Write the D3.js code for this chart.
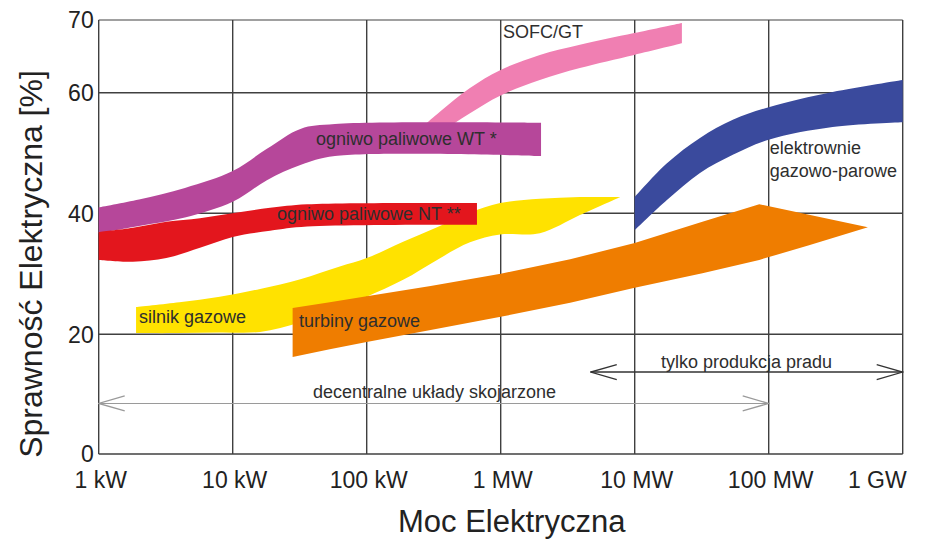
<!DOCTYPE html>
<html>
<head>
<meta charset="utf-8">
<script src="https://cdn.jsdelivr.net/npm/d3@7"></script>
<style>
  body { margin: 0; background: #fff; }
  svg text { font-family: "Liberation Sans", Arial, sans-serif; }
</style>
</head>
<body>
<div id="chart"></div>
<script>
// axis ticks
const xTicks = [1, 10, 100, 1000, 10000, 100000, 1000000]; // kW
const xTickLabels = ["1 kW", "10 kW", "100 kW", "1 MW", "10 MW", "100 MW", "1 GW"];
const yTicks = [0, 20, 40, 60, 70];

// ogniwo paliwowe WT
const wtPower = [1, 2, 4.4, 10, 18, 32, 58, 2000];
const wtUpper = [41, 42.3, 44.2, 47, 50.7, 54, 54.8, 55];
const wtLower = [36.7, 37.9, 39.3, 41.9, 45.5, 48, 49.5, 49.5];

// ogniwo paliwowe NT
const ntPower = [1, 1.8, 3.2, 5.7, 10, 19, 36, 665];
const ntUpper = [36.9, 37.6, 38.6, 39.2, 40, 40.9, 41.5, 41.7];
const ntLower = [32.3, 32, 32.6, 34.3, 36.1, 37.1, 37.8, 38.1];

// SOFC/GT
const sofcPower = [210, 350, 590, 990, 1960, 3900, 9900, 22500];
const sofcUpper = [52.5, 56.8, 60.65, 63.1, 65.2, 66.6, 68.2, 69.6];
const sofcLower = [50, 53.3, 56.6, 59.5, 61.75, 63.4, 65.2, 66.8];

// silnik gazowe
const enginePower = [1.9, 4, 8, 16, 32, 63, 100, 187, 335, 590, 990, 1960, 3900, 7800];
const engineUpper = [24.5, 25.3, 26.2, 27.5, 29.1, 31.2, 32.6, 35.3, 37.7, 40.1, 41.7, 42.4, 42.7, 42.7];
const engineLower = [20.2, 20.2, 20.3, 20.4, 22, 24.4, 26.2, 29, 32.3, 35.2, 36.5, 36.7, 39.7, 42.7];

// turbiny gazowe
const turbinePower = [28, 53, 100, 300, 1000, 3300, 10000, 32000, 85000, 200000, 550000];
const turbineUpper = [24.35, 25.3, 26.3, 28, 30, 32.4, 35.1, 38.6, 41.5, 39.75, 37.7];
const turbineLower = [16.2, 17.5, 18.7, 20.7, 22.9, 25.2, 27.7, 30.1, 32.3, 34.7, 37.7];

// elektrownie gazowo-parowe
const ccgtPower = [10000, 17400, 30700, 54000, 100000, 300000, 1000000];
const ccgtUpper = [42.7, 48.3, 52.5, 55.5, 57.6, 60.1, 61.75];
const ccgtLower = [37.2, 42.2, 46.7, 49.7, 52.2, 54.3, 55.1];

// band labels
const labelTexts = ["SOFC/GT", "ogniwo paliwowe WT *", "ogniwo paliwowe NT **", "silnik gazowe",
  "turbiny gazowe", "elektrownie", "gazowo-parowe"];
const labelPower = [1040, 41.8, 21.4, 2.0, 31.2, 102000, 102000];
const labelEff = [67.5, 51.3, 38.9, 21.9, 21.2, 49.8, 46.0];

// range arrows
const arrowTexts = ["decentralne układy skojarzone", "tylko produkcja pradu"];
const arrowFrom = [1, 4700];
const arrowTo = [100000, 1000000];
const arrowEff = [8.45, 13.7];
const arrowTextPower = [39.7, 15700];
const arrowTextEff = [9.35, 14.4];

const W = 929, H = 540;
const margin = { top: 20, right: 26.3, bottom: 86, left: 98.7 },
  width = W - margin.left - margin.right,
  height = H - margin.top - margin.bottom;

const root = d3.select("#chart").append("svg")
  .attr("width", W)
  .attr("height", H);

const svg = root.append("g")
  .attr("transform", `translate(${margin.left},${margin.top})`);

const x = d3.scaleLog().domain([1, 1000000]).range([0, width]);
// the original axis is stretched between 60 and 70
const y = d3.scaleLinear()
  .domain([0, 20, 40, 60, 70])
  .range([height, height - 119.7, height - 240.7, height - 361.3, 0]);

// grid
svg.append("g")
  .selectAll("line")
  .data(yTicks)
  .join("line")
  .attr("x1", 0).attr("x2", width)
  .attr("y1", d => y(d)).attr("y2", d => y(d))
  .attr("stroke", d => d === 70 ? "#808080" : "#404040")
  .attr("stroke-width", 1.4);

svg.append("g")
  .selectAll("line")
  .data(xTicks)
  .join("line")
  .attr("x1", d => x(d)).attr("x2", d => x(d))
  .attr("y1", 0).attr("y2", height)
  .attr("stroke", "#404040")
  .attr("stroke-width", 1.4);

// bands
const smooth = d3.curveCatmullRom.alpha(0.5);
const bands = [
  { power: sofcPower, upper: sofcUpper, lower: sofcLower, color: "#f07fb2", curve: smooth },
  { power: wtPower, upper: wtUpper, lower: wtLower, color: "#b6479a", curve: smooth },
  { power: enginePower, upper: engineUpper, lower: engineLower, color: "#ffe200", curve: smooth },
  { power: turbinePower, upper: turbineUpper, lower: turbineLower, color: "#ef7d00", curve: d3.curveLinear },
  { power: ntPower, upper: ntUpper, lower: ntLower, color: "#e3161d", curve: smooth },
  { power: ccgtPower, upper: ccgtUpper, lower: ccgtLower, color: "#3a4a9d", curve: smooth }
];

bands.forEach(b => {
  const pts = b.power.map((p, i) => [p, b.lower[i], b.upper[i]]);
  svg.append("path")
    .datum(pts)
    .attr("fill", b.color)
    .attr("d", d3.area()
      .curve(b.curve)
      .x(d => x(d[0]))
      .y0(d => y(d[1]))
      .y1(d => y(d[2])));
});

// band labels
svg.append("g")
  .selectAll("text")
  .data(labelTexts)
  .join("text")
  .attr("x", (d, i) => x(labelPower[i]))
  .attr("y", (d, i) => y(labelEff[i]))
  .attr("fill", "#2e2e2e")
  .attr("font-size", 18)
  .text(d => d);

// range arrows
const defs = root.append("defs");
[["arrGray", "#9a9a9a"], ["arrDark", "#333"]].forEach(([id, c]) => {
  defs.append("marker")
    .attr("id", id)
    .attr("markerUnits", "userSpaceOnUse")
    .attr("markerWidth", 28).attr("markerHeight", 18)
    .attr("refX", 27).attr("refY", 9)
    .attr("orient", "auto-start-reverse")
    .append("path")
    .attr("d", "M1,1.5 L27,9 L1,16.5")
    .attr("fill", "none")
    .attr("stroke", c)
    .attr("stroke-width", 1.3);
});

arrowTexts.forEach((t, i) => {
  const id = i === 0 ? "arrGray" : "arrDark";
  svg.append("line")
    .attr("x1", x(arrowFrom[i])).attr("x2", x(arrowTo[i]))
    .attr("y1", y(arrowEff[i])).attr("y2", y(arrowEff[i]))
    .attr("stroke", i === 0 ? "#9a9a9a" : "#333")
    .attr("stroke-width", i === 0 ? 1.1 : 1.5)
    .attr("marker-start", `url(#${id})`)
    .attr("marker-end", `url(#${id})`);
  svg.append("text")
    .attr("x", x(arrowTextPower[i]))
    .attr("y", y(arrowTextEff[i]))
    .attr("fill", "#2e2e2e")
    .attr("font-size", 18)
    .text(t);
});

// tick labels
svg.append("g")
  .selectAll("text")
  .data(yTicks)
  .join("text")
  .attr("x", -5)
  .attr("y", d => y(d))
  .attr("dy", "0.36em")
  .attr("text-anchor", "end")
  .attr("fill", "#222")
  .attr("font-size", 23)
  .text(d => d);

svg.append("g")
  .selectAll("text")
  .data(xTicks)
  .join("text")
  .attr("x", (d, i) => i === xTicks.length - 1 ? x(d) + 4 : x(d) + 2)
  .attr("y", height + 34)
  .attr("text-anchor", (d, i) => i === xTicks.length - 1 ? "end" : "middle")
  .attr("fill", "#222")
  .attr("font-size", 23)
  .text((d, i) => xTickLabels[i]);

// axis titles
svg.append("text")
  .attr("x", 413)
  .attr("y", height + 78)
  .attr("text-anchor", "middle")
  .attr("fill", "#222")
  .attr("font-size", 31)
  .text("Moc Elektryczna");

svg.append("text")
  .attr("transform", `translate(${42 - margin.left},${244}) rotate(-90)`)
  .attr("text-anchor", "middle")
  .attr("fill", "#222")
  .attr("font-size", 32)
  .text("Sprawność Elektryczna [%]");
</script>
</body>
</html>
